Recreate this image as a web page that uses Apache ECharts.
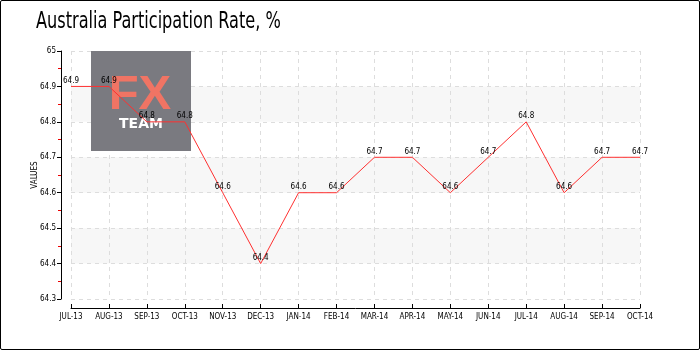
<!DOCTYPE html>
<html><head><meta charset="utf-8">
<script src="https://cdn.jsdelivr.net/npm/echarts@6/dist/echarts.min.js"></script>
<style>html,body{margin:0;padding:0;background:#fff}
#c{width:700px;height:350px;box-sizing:border-box;border:1px solid #000;border-radius:2px}</style>
</head><body><div id="c"></div>
<script>
const titleText = 'Australia Participation Rate, %';
const categories = ['JUL-13','AUG-13','SEP-13','OCT-13','NOV-13','DEC-13','JAN-14','FEB-14','MAR-14','APR-14','MAY-14','JUN-14','JUL-14','AUG-14','SEP-14','OCT-14'];
const values = [64.9,64.9,64.8,64.8,64.6,64.4,64.6,64.6,64.7,64.7,64.6,64.7,64.8,64.6,64.7,64.7];
const yMin = 64.3, yMax = 65, yStep = 0.1;
const yName = 'VALUES';

const chart = echarts.init(document.getElementById('c'), null, {renderer:'canvas'});
const lblFont = 'DejaVu Sans Condensed';
chart.setOption({
  animation:false,
  graphic:[
    {type:'text',z:10,silent:true,x:35,y:10,scaleX:0.78,style:{text:titleText,fill:'#000',font:'normal 23px DejaVu Sans Condensed',textVerticalAlign:'top'}},
    {type:'rect',z:1,silent:true,shape:{x:90,y:50,width:100,height:100},style:{fill:'#7a7a80'}},
    {type:'text',z:1,silent:true,style:{text:'FX',x:139,y:94,textAlign:'center',textVerticalAlign:'middle',fill:'#f07464',font:'bold 49px Liberation Sans'}},
    {type:'text',z:1,silent:true,style:{text:'TEAM',x:140,y:123,textAlign:'center',textVerticalAlign:'middle',fill:'#ffffff',font:'bold 14px DejaVu Sans'}}
  ],
  grid:{left:70,right:59,top:50,bottom:50},
  xAxis:{type:'category',data:categories,boundaryGap:false,offset:9,
    axisLine:{lineStyle:{color:'#000',width:1}},
    axisTick:{inside:true,length:4,lineStyle:{color:'#000'}},
    axisLabel:{color:'#000',fontSize:8,fontFamily:lblFont,margin:5},
    splitLine:{show:true,lineStyle:{color:'#ddd',type:[4,4]}}},
  yAxis:{type:'value',min:yMin,max:yMax,interval:yStep,offset:10,
    name:yName,nameLocation:'middle',nameGap:22,nameRotate:90,nameMoveOverlap:false,
    nameTextStyle:{fontSize:8,fontFamily:lblFont,color:'#000'},
    axisLine:{show:true,lineStyle:{color:'#000',width:1}},
    axisTick:{show:true,length:4,lineStyle:{color:'#000'}},
    minorTick:{show:true,splitNumber:2,length:3,lineStyle:{color:'#e00'}},
    axisLabel:{color:'#000',fontSize:8,fontFamily:lblFont,margin:5},
    splitLine:{show:true,lineStyle:{color:'#ddd',type:[4,4]}},
    splitArea:{show:true,areaStyle:{color:['rgba(255,255,255,0)','#f7f7f7']}}},
  series:[{type:'line',data:values,z:3,symbol:'circle',symbolSize:1,
    itemStyle:{color:'rgba(0,0,0,0)'},
    lineStyle:{color:'#ff3030',width:1},
    label:{show:true,position:'top',distance:1,color:'#000',fontSize:8,fontFamily:lblFont}}]
});
</script></body></html>
